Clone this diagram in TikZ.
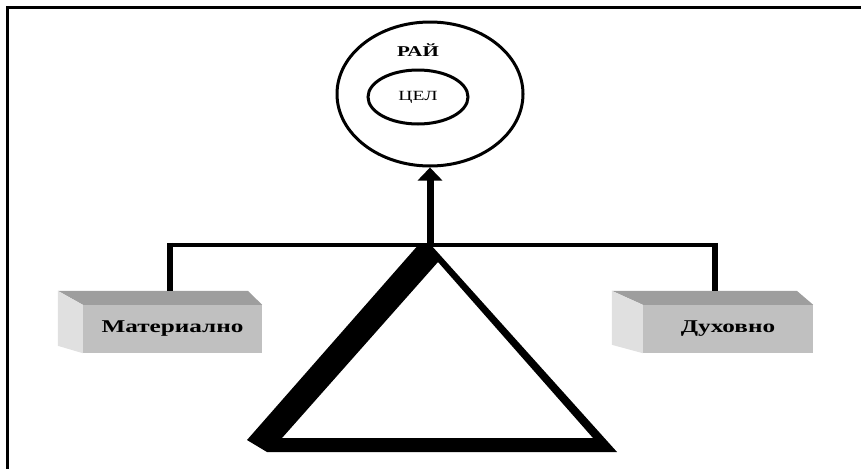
\documentclass[tikz,border=0pt]{standalone}
\usepackage{fontspec}
\setmainfont{Liberation Serif}[FakeStretch=1.4]
\usepackage{tikz}
\usetikzlibrary{shapes.geometric, arrows.meta, calc, positioning}
\definecolor{boxfront}{RGB}{192,192,192}
\definecolor{boxtop}{RGB}{158,158,158}
\definecolor{boxside}{RGB}{224,224,224}
\tikzstyle{ring} = [ellipse, draw=black, line width=3pt, inner sep=0pt]
\tikzstyle{box} = [rectangle, fill=boxfront, inner sep=0pt, minimum height=48pt, text centered, font=\fontsize{18}{20}\selectfont\bfseries]
\tikzstyle{bar} = [line width=4.5pt]
\tikzstyle{drop} = [line width=6.5pt]
\tikzstyle{arrow} = [line width=7pt, -{Triangle[width=24pt, length=13pt]}]

\begin{document}
\begin{tikzpicture}[x=1pt, y=-1pt]
		\useasboundingbox (0,0) rectangle (861,469);
		\draw [line width=3pt] (861,7.5) -| (7.5,469);
		% goal rings
		\node (Rai) [ring, minimum width=186pt, minimum height=144pt] at (430,94) {};
		\node (Cel) [ring, minimum width=100pt, minimum height=54pt] at (418,97) {\fontsize{14}{16}\selectfont ЦЕЛ};
		\node (RaiText) at (418,50) {\fontsize{15}{17}\selectfont\bfseries РАЙ};
		% the two pans
		\node (Material) [box, minimum width=179pt] at (172.5,329) {Материално};
		\node (Duhovno) [box, minimum width=170pt] at (728,329) {Духовно};
		\fill [boxtop] (Material.north west) -- ++(-25,-14) coordinate (MaterialTop) -- ++(190,0) -- (Material.north east) -- cycle;
		\fill [boxside] (Material.north west) -- ++(-25,-14) -- ++(0,55) -- (Material.south west) -- cycle;
		\fill [boxtop] (Duhovno.north west) -- ++(-31,-14) coordinate (DuhovnoTop) -- ++(185,0) -- (Duhovno.north east) -- cycle;
		\fill [boxside] (Duhovno.north west) -- ++(-31,-14) -- ++(0,54) -- (Duhovno.south west) -- cycle;
		% beam
		\coordinate (Pivot) at (430,245);
		\coordinate (LeftEnd) at (170,245);
		\coordinate (RightEnd) at (715,245);
		\draw [bar] (LeftEnd) -- (RightEnd);
		\draw [drop] ([yshift=2.25pt]LeftEnd) -- (LeftEnd |- MaterialTop);
		\draw [drop] ([yshift=2.25pt]RightEnd) -- (RightEnd |- DuhovnoTop);
		\draw [arrow] (Pivot) -- (Rai.south);
		% stand
		\fill [even odd rule] (247,440) -- (420,243) -- (431,245) -- (617,452) -- (267,452) -- cycle
			(282,438) -- (438,262) -- (593,438) -- cycle;
\end{tikzpicture}
\end{document}
